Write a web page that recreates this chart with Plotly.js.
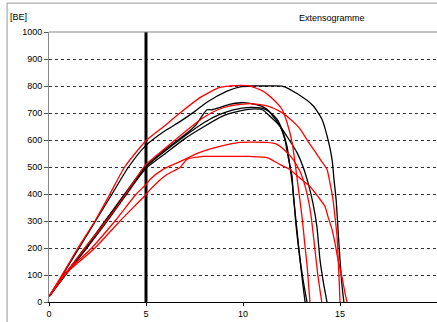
<!DOCTYPE html>
<html><head><meta charset="utf-8">
<script src="https://cdn.plot.ly/plotly-3.0.1.min.js"></script>
<style>html,body{margin:0;padding:0;background:#fff;}#chart{width:437px;height:322px;}</style>
</head><body><div id="chart"></div>
<script>
// Black curves
var k1x = [0,0.7,1.55,2.4,3.25,4.1,5.0,6.0,6.75,7.5,8.14,9.18,9.85,10.5,11.2,12.06,12.78,13.6,14.07,14.38,14.59,14.69,14.8,14.9,15.0,15.1,15.2];
var k1y = [20,100,200,300,400,500,580,635,668,705,740,781,797,800,800,799,772,728,677,602,528,454,379,268,156,63,0];
var k2x = [0,0.8,1.85,2.9,3.9,4.95,6.0,7.1,7.6,7.9,8.15,8.4,8.8,9.3,9.9,10.36,10.88,11.24,11.55,11.91,12.16,12.32,12.53,12.58,12.78,12.94,13.09,13.2];
var k2y = [20,100,200,300,400,500,565,625,658,690,712,712,720,732,738,736,727,714,688,651,602,539,465,405,268,156,63,0];
var k3x = [0,0.82,1.9,2.9,3.95,5.0,6.0,7.0,8.0,8.8,9.5,10.36,11.03,11.39,11.75,12.01,12.27,12.42,12.58,12.73,12.9,13.1,13.3];
var k3y = [20,100,200,300,400,500,560,615,665,695,712,721,717,703,677,639,576,502,416,286,180,80,0];
var k4x = [0,0.85,1.95,3.0,4.0,5.0,6.0,7.0,8.0,9.0,9.85,10.6,11.0,11.39,11.91,12.27,12.78,13.09,13.35,13.6,13.81,13.97,14.15,14.33];
var k4y = [20,100,200,300,400,495,550,605,650,690,708,715,712,688,651,613,554,502,442,368,279,156,70,0];
// Red curves
var r1x = [0,0.67,1.49,2.37,3.14,3.9,5.0,6.0,6.75,7.8,8.8,9.3,10.0,10.36,11.03,11.55,12.01,12.27,12.53,12.68,12.84,13.04,13.2,13.3,13.45];
var r1y = [20,100,200,300,400,500,597,655,700,758,795,800,802,800,781,751,714,665,591,517,428,316,204,138,0];
var r2x = [0,0.8,1.85,2.95,3.95,4.95,6.0,7.0,8.0,8.7,9.4,10.0,10.36,11.2,11.9,12.4,12.9,13.35,13.71,14.05,14.33,14.48,14.64,14.74,14.85,14.9,14.95,15.0];
var r2y = [20,100,200,300,400,505,570,630,685,712,727,733,735,727,706,680,645,595,558,521,491,442,379,316,242,167,93,0];
var r3x = [0,0.75,2.2,3.4,4.5,5.0,5.21,5.88,6.75,7.78,8.81,9.85,11.24,11.75,12.27,12.58,12.94,13.25,13.5,13.71,13.87,14.06];
var r3y = [20,100,200,300,400,435,454,491,520,554,576,591,591,584,554,528,483,416,323,193,93,0];
var r4x = [0,0.8,2.37,3.66,5.0,5.21,5.57,6.08,6.75,7.11,7.94,8.66,10.36,11.24,11.91,12.42,12.94,13.45,13.87,14.23,14.38,14.59,14.74,14.9,15.1,15.26,15.36];
var r4y = [20,100,200,300,398,416,442,472,498,528,539,539,539,535,509,491,458,428,390,353,316,268,219,156,93,33,0];
// Marker line
var markX = [5,5];
var markY = [0,1000];
var yTicks = [0,100,200,300,400,500,600,700,800,900,1000];
var xTicks = [0,5,10,15,20];

function tr(x,y,c,w,s){return {x:x,y:y,type:'scatter',mode:'lines',line:{color:c,width:w||1.3,shape:s?'spline':'linear',smoothing:0.6},hoverinfo:'skip',showlegend:false};}
var data = [
  tr(markX,markY,'#000',3,false),
  tr(k1x,k1y,'#000',1.3,true),tr(k2x,k2y,'#000',1.3,true),tr(k3x,k3y,'#000',1.3,true),tr(k4x,k4y,'#000',1.3,true),
  tr(r1x,r1y,'#ff0000',1.3,true),tr(r2x,r2y,'#ff0000',1.3,true),tr(r3x,r3y,'#ff0000',1.3,true),tr(r4x,r4y,'#ff0000',1.3,true)
];
var F = {family:'Liberation Sans, Arial, sans-serif',size:9,color:'#000'};
var layout = {
  width:437,height:322,
  margin:{l:49,r:0,t:32,b:20,pad:0},
  paper_bgcolor:'#fff',plot_bgcolor:'#fff',
  font:F,
  xaxis:{range:[0,20],tickvals:xTicks,ticktext:xTicks.map(String),showgrid:false,zeroline:false,
    showline:true,linecolor:'#000',linewidth:1,ticks:'outside',ticklen:3,tickcolor:'#000',tickfont:F,fixedrange:true},
  yaxis:{range:[0,1000],tickvals:yTicks,ticktext:yTicks.map(String),showgrid:true,gridcolor:'#333',gridwidth:1,griddash:'3px,3px',
    zeroline:false,showline:true,linecolor:'#888',linewidth:1,ticks:'outside',ticklen:4,tickcolor:'#555',tickfont:F,fixedrange:true},
  shapes:[
    {type:'line',xref:'paper',yref:'paper',x0:0,x1:1,y0:1,y1:1,line:{color:'#888',width:1}},
    {type:'line',xref:'paper',yref:'paper',x0:-0.108,x1:-0.108,y0:1.107,y1:-0.2,line:{color:'#999',width:1}},
    {type:'line',xref:'paper',yref:'paper',x0:-0.108,x1:1.01,y0:1.107,y1:1.107,line:{color:'#999',width:1}}
  ],
  annotations:[
    {text:'[BE]',xref:'paper',yref:'paper',x:-0.105,y:1.055,xanchor:'left',yanchor:'middle',showarrow:false,font:F},
    {text:'Extensogramme',xref:'paper',yref:'paper',x:0.73,y:1.05,xanchor:'center',yanchor:'middle',showarrow:false,font:F}
  ]
};
Plotly.newPlot('chart',data,layout,{displayModeBar:false,staticPlot:true});
</script></body></html>
